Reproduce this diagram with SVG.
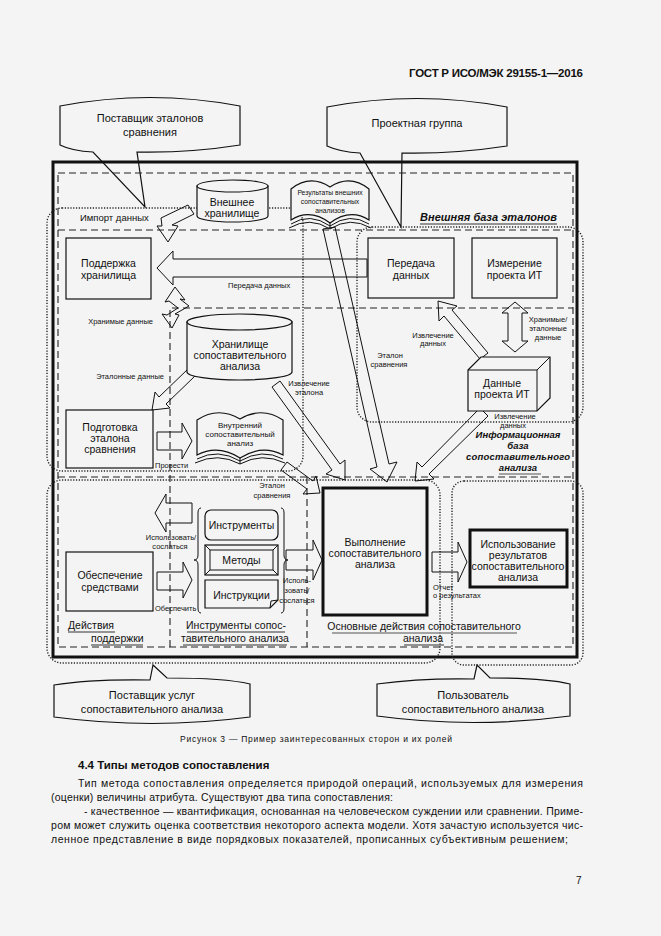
<svg xmlns="http://www.w3.org/2000/svg" width="661" height="936" viewBox="0 0 661 936">
<defs>
<style>
.t{font-family:"Liberation Sans",Arial,sans-serif;fill:#111}
.c{text-anchor:middle}
.e{text-anchor:end}
.b{font-weight:bold}
.bi{font-weight:bold;font-style:italic}
.f11{font-size:11px}
.f10{font-size:10.5px}
.f9{font-size:9.5px}
.f8{font-size:8px}
.f7{font-size:7.5px}
.f6{font-size:6.8px}
.box{fill:#f4f4f4;stroke:#111;stroke-width:1.2}
.thk{fill:#f4f4f4;stroke:#111;stroke-width:3}
.dash{fill:none;stroke:#222;stroke-width:1.1;stroke-dasharray:7 4}
.dot{fill:none;stroke:#222;stroke-width:1.4;stroke-dasharray:1.2 1.6}
.arr{fill:none;stroke:#111;stroke-width:1;stroke-linejoin:miter}
.ln{fill:none;stroke:#111;stroke-width:1}
.ul{stroke:#333;stroke-width:1}
.ulg{stroke:#888;stroke-width:1.6}
</style>
</defs>
<rect width="661" height="936" fill="#f4f4f4"/>

<text class="t b" x="583" y="77" text-anchor="end" font-size="11.5" textLength="174">ГОСТ Р ИСО/МЭК 29155-1—2016</text>

<g id="callouts">
  <g id="n-benchmark-supplier">
    <path class="box" d="M60,106 Q150,89 240,106 V145 Q190,153 137,152 L145,207 L93,152 Q72,151 60,145 Z"/>
    <text class="t c f11" x="150" y="122">Поставщик эталонов</text>
    <text class="t c f11" x="150" y="136">сравнения</text>
  </g>
  <g id="n-project-team">
    <path class="box" d="M327,107 Q417,90 507,107 V146 Q455,154 402,153 L401,227 L360,153 Q340,152 327,146 Z"/>
    <text class="t c f11" x="417" y="127">Проектная группа</text>
  </g>
  <g id="n-service-supplier">
    <path class="box" d="M54,685 Q90,679 150,680 L153,665 L167,678 Q225,678 250,684 V717 Q152,730 54,717 Z"/>
    <text class="t c f11" x="152" y="699">Поставщик услуг</text>
    <text class="t c f11" x="152" y="713">сопоставительного анализа</text>
  </g>
  <g id="n-user">
    <path class="box" d="M377,684 Q420,678 474,679 L477,665 L490,678 Q545,678 570,684 V716 Q473,729 377,716 Z"/>
    <text class="t c f11" x="473" y="699">Пользователь</text>
    <text class="t c f11" x="473" y="713">сопоставительного анализа</text>
  </g>
</g>

<g id="regions">
  <rect x="53" y="162" width="524" height="495" fill="none" stroke="#111" stroke-width="3"/>
  <rect class="dash" x="58" y="173" width="515" height="474"/>
  <line class="dash" x1="58" y1="230" x2="573" y2="230"/>
  <path class="dash" d="M170,647 V308 H573"/>
  <line class="dash" x1="58" y1="477" x2="573" y2="477"/>
  <line class="dash" x1="307" y1="477" x2="307" y2="647"/>
  <rect class="dot" x="47" y="208" width="256" height="263" rx="15"/>
  <rect class="dot" x="357" y="227" width="226" height="195" rx="15"/>
  <rect class="dot" x="47" y="480" width="393" height="183" rx="15"/>
  <rect class="dot" x="452" y="481" width="131" height="184" rx="12"/>
</g>

<g id="region-labels">
  <text class="t f9" x="80" y="221">Импорт данных</text>
  <text class="t bi f11" x="420" y="221" textLength="137">Внешняя база эталонов</text>
  <line class="ul" x1="420" y1="224" x2="557" y2="224"/>
  <text class="t bi c f9" x="518" y="438">Информационная</text>
  <text class="t bi c f9" x="518" y="449">база</text>
  <text class="t bi c f9" x="518" y="460" textLength="104">сопоставительного</text>
  <text class="t bi c f9" x="518" y="471">анализа</text>
  <line class="ulg" x1="499" y1="474" x2="541" y2="474"/>
  <text class="t f10" x="68" y="629">Действия</text>
  <line class="ul" x1="68" y1="632" x2="115" y2="632"/>
  <text class="t f10" x="91" y="642">поддержки</text>
  <line class="ul" x1="91" y1="645" x2="143" y2="645"/>
  <text class="t c f10" x="236" y="629">Инструменты сопос-</text>
  <line class="ul" x1="187" y1="632" x2="285" y2="632"/>
  <text class="t c f10" x="235" y="642">тавительного анализа</text>
  <line class="ul" x1="183" y1="645" x2="287" y2="645"/>
  <text class="t c f10" x="424" y="630">Основные действия сопоставительного</text>
  <line class="ulg" x1="332" y1="633" x2="517" y2="633"/>
  <text class="t c f10" x="423" y="642">анализа</text>
  <line class="ul" x1="404" y1="645" x2="444" y2="645"/>
</g>

<g id="connectors">
  <g id="c-import">
    <polygon class="arr" points="188,205 194,214 172,225 178,226 168,242 157,226 162,226 161,218"/>
  </g>
  <g id="c-transfer">
    <polygon class="arr" points="157,268 173,251 173,259 367,259 367,277 173,277 173,285"/>
    <text class="t f7" x="228" y="288">Передача данных</text>
  </g>
  <g id="c-stored">
    <polygon class="arr" points="175,287 185,300 180,299 189,306 175,314 179,315 172,328 162,314 167,315 178,308 169,301 165,302"/>
    <text class="t f7 e" x="153" y="324">Хранимые данные</text>
  </g>
  <g id="c-bench-data">
    <polygon class="arr" points="189,368 159,397 155,392 152,410 170,408 166,404 195,376"/>
    <text class="t f7 e" x="164" y="379">Эталонные данные</text>
  </g>
  <g id="c-conduct">
    <polygon class="arr" points="157,432 182,432 182,423 192,441 182,459 182,450 157,450"/>
    <text class="t f7" x="155" y="468">Провести</text>
  </g>
  <g id="c-extract-bench">
    <polygon class="arr" points="272,387 332,470 326,474 345,480 345,460 340,464 280,381"/>
    <text class="t f7 c" x="309" y="386">Извлечение</text>
    <text class="t f7 c" x="309" y="395">эталона</text>
  </g>
  <g id="c-bench-ext">
    <polygon class="arr" points="323,229 377,467 370,469 387,482 397,462 389,464 335,227"/>
    <text class="t f7 c" x="390" y="358">Эталон</text>
    <text class="t f7 c" x="389" y="367">сравнения</text>
  </g>
  <g id="c-extract-data-up">
    <polygon class="arr" points="488,353 452,310 457,306 438,301 439,321 444,316 480,359"/>
    <text class="t f7 c" x="433" y="338">Извлечение</text>
    <text class="t f7 c" x="433" y="346">данных</text>
  </g>
  <g id="c-stored-bench">
    <polygon class="arr" points="515,302 528,313 522,313 522,341 528,341 515,352 502,341 508,341 508,313 502,313"/>
    <text class="t f7 c" x="548" y="322">Хранимые/</text>
    <text class="t f7 c" x="548" y="331">эталонные</text>
    <text class="t f7 c" x="548" y="340">данные</text>
  </g>
  <g id="c-extract-data-down">
    <polygon class="arr" points="480,408 422,467 417,462 415,481 434,479 429,474 488,416"/>
    <text class="t f7 c" x="515" y="419">Извлечение</text>
    <text class="t f7 c" x="513" y="428">данных</text>
  </g>
  <g id="c-bench-int">
    <polygon class="arr" points="281,470 307,489 303,494 320,493 316,476 313,481 287,462"/>
    <text class="t f7 c" x="272" y="488">Эталон</text>
    <text class="t f7 c" x="272" y="498">сравнения</text>
  </g>
  <g id="c-use-left">
    <polygon class="arr" points="192,503 166,503 166,494 155,513 166,532 166,523 192,523"/>
    <text class="t f7 c" x="171" y="540">Использовать/</text>
    <text class="t f7 c" x="170" y="549">сослаться</text>
  </g>
  <g id="c-provide">
    <polygon class="arr" points="157,572 183,572 183,562 192,580 183,598 183,590 157,590"/>
    <text class="t f7" x="155" y="611">Обеспечить</text>
  </g>
  <g id="c-use-right">
    <polygon class="arr" points="286,550 313,550 313,540 322,560 313,580 313,570 286,570"/>
    <text class="t f7 c" x="297" y="583">Исполь-</text>
    <text class="t f7 c" x="297" y="593">зовать/</text>
    <text class="t f7 c" x="297" y="603">сослаться</text>
  </g>
  <g id="c-report">
    <polygon class="arr" points="432,552 458,552 458,542 467,562 458,582 458,572 432,572"/>
    <text class="t f7" x="433" y="590">Отчет</text>
    <text class="t f7" x="433" y="598">о результатах</text>
  </g>
</g>

<g id="n-ext-storage">
  <path class="box" d="M197,186 V216 A35.5,6 0 0 0 268,216 V186 Z"/>
  <ellipse class="box" cx="232.5" cy="186" rx="35.5" ry="6"/>
  <text class="t c f10" x="232" y="206">Внешнее</text>
  <text class="t c f10" x="232" y="217">хранилище</text>
</g>

<g id="n-ext-results">
  <path class="box" d="M291,189 Q310,174 330,187 Q350,174 369,189 V220 Q350,208 330,223 Q310,208 291,220 Z"/>
  <path class="ln" d="M291,224 Q310,212 330,226 Q350,212 369,224 M289,228 Q310,216 330,229 Q350,216 371,228 M330,223 V229"/>
  <text class="t c f6" x="330" y="195">Результаты внешних</text>
  <text class="t c f6" x="330" y="204">сопоставительных</text>
  <text class="t c f6" x="330" y="213">анализов</text>
</g>

<g id="n-storage-support">
  <rect class="box" x="66" y="238" width="85" height="61"/>
  <text class="t c f10" x="108.5" y="267">Поддержка</text>
  <text class="t c f10" x="108.5" y="279">хранилища</text>
</g>

<g id="n-data-transfer">
  <rect class="box" x="368" y="238" width="86" height="60"/>
  <text class="t c f10" x="411" y="267">Передача</text>
  <text class="t c f10" x="411" y="279">данных</text>
</g>

<g id="n-it-measure">
  <rect class="box" x="472" y="238" width="85" height="60"/>
  <text class="t c f10" x="514.5" y="267">Измерение</text>
  <text class="t c f10" x="514.5" y="279">проекта ИТ</text>
</g>

<g id="n-bench-storage">
  <path class="box" d="M187,322 V372 A52.5,8 0 0 0 292,372 V322 Z"/>
  <ellipse class="box" cx="239.5" cy="322" rx="52.5" ry="8"/>
  <text class="t c f10" x="240" y="348">Хранилище</text>
  <text class="t c f10" x="240" y="359">сопоставительного</text>
  <text class="t c f10" x="240" y="370">анализа</text>
</g>

<g id="n-it-data">
  <path class="box" d="M468,370 L481,357 H550 V398 L537,411 H468 Z"/>
  <path class="ln" d="M468,370 H537 V411 M537,370 L550,357"/>
  <text class="t c f10" x="502" y="387">Данные</text>
  <text class="t c f10" x="502" y="398">проекта ИТ</text>
</g>

<g id="n-bench-prep">
  <rect class="box" x="66" y="410" width="87" height="58"/>
  <text class="t c f10" x="110" y="431">Подготовка</text>
  <text class="t c f10" x="110" y="442">эталона</text>
  <text class="t c f10" x="110" y="453">сравнения</text>
</g>

<g id="n-internal">
  <path class="box" d="M197,420 Q218,406 240,419 Q262,406 283,420 V455 Q262,444 240,458 Q218,444 197,455 Z"/>
  <path class="ln" d="M197,459 Q218,448 240,461 Q262,448 283,459 M195,463 Q218,452 240,464 Q262,452 285,463 M240,458 V464"/>
  <text class="t c f8" x="240" y="428">Внутренний</text>
  <text class="t c f8" x="240" y="437">сопоставительный</text>
  <text class="t c f8" x="240" y="446">анализ</text>
</g>

<g id="n-tools-set">
  <path class="ln" d="M201,508 Q198,508 198,513 V555 Q198,560 194,560 Q198,560 198,565 V608 Q198,613 201,613"/>
  <path class="ln" d="M281,508 Q284,508 284,513 V555 Q284,560 288,560 Q284,560 284,565 V608 Q284,613 281,613"/>
  <g id="n-instruments">
    <rect class="box" x="205" y="510" width="73" height="30" rx="6" stroke-width="1.5"/>
    <text class="t c f10" x="241.5" y="529">Инструменты</text>
  </g>
  <g id="n-methods">
    <rect class="box" x="205" y="545" width="73" height="30" stroke-width="1.6"/>
    <rect class="ln" x="210" y="550" width="63" height="20"/>
    <path class="ln" d="M205,545 L210,550 M278,545 L273,550 M205,575 L210,570 M278,575 L273,570"/>
    <text class="t c f10" x="241.5" y="564">Методы</text>
  </g>
  <g id="n-instructions">
    <path class="box" d="M205,580 H278 V600 L270,608 H205 Z" stroke-width="1.5"/>
    <path class="ln" d="M270,608 L271,601 L278,600"/>
    <text class="t c f10" x="241.5" y="599">Инструкции</text>
  </g>
</g>

<g id="n-execute">
  <rect class="thk" x="323" y="488" width="104" height="127"/>
  <text class="t c f10" x="375" y="546">Выполнение</text>
  <text class="t c f10" x="375" y="557">сопоставительного</text>
  <text class="t c f10" x="375" y="568">анализа</text>
</g>

<g id="n-use-results">
  <rect class="thk" x="470" y="530" width="97" height="57"/>
  <text class="t c f10" x="518" y="548">Использование</text>
  <text class="t c f10" x="518" y="559">результатов</text>
  <text class="t c f10" x="518" y="570">сопоставительного</text>
  <text class="t c f10" x="518" y="581">анализа</text>
</g>

<g id="n-provide">
  <rect class="box" x="66" y="552" width="87" height="59"/>
  <text class="t c f10" x="110" y="579">Обеспечение</text>
  <text class="t c f10" x="110" y="591">средствами</text>
</g>

<g id="page-text">
  <text class="t" x="180" y="742" font-size="8.5" textLength="272">Рисунок 3 — Пример заинтересованных сторон и их ролей</text>
  <text class="t b" x="78" y="769" font-size="11.5">4.4 Типы методов сопоставления</text>
  <text class="t" x="78" y="787" font-size="10.5" textLength="505">Тип метода сопоставления определяется природой операций, используемых для измерения</text>
  <text class="t" x="51" y="801" font-size="10.5" textLength="342">(оценки) величины атрибута. Существуют два типа сопоставления:</text>
  <text class="t" x="84" y="815" font-size="10.5" textLength="499">- качественное — квантификация, основанная на человеческом суждении или сравнении. Приме-</text>
  <text class="t" x="51" y="829" font-size="10.5" textLength="532">ром может служить оценка соответствия некоторого аспекта модели. Хотя зачастую используется чис-</text>
  <text class="t" x="51" y="843" font-size="10.5" textLength="517">ленное представление в виде порядковых показателей, прописанных субъективным решением;</text>
  <text class="t" x="576" y="884" font-size="10">7</text>
</g>
</svg>
